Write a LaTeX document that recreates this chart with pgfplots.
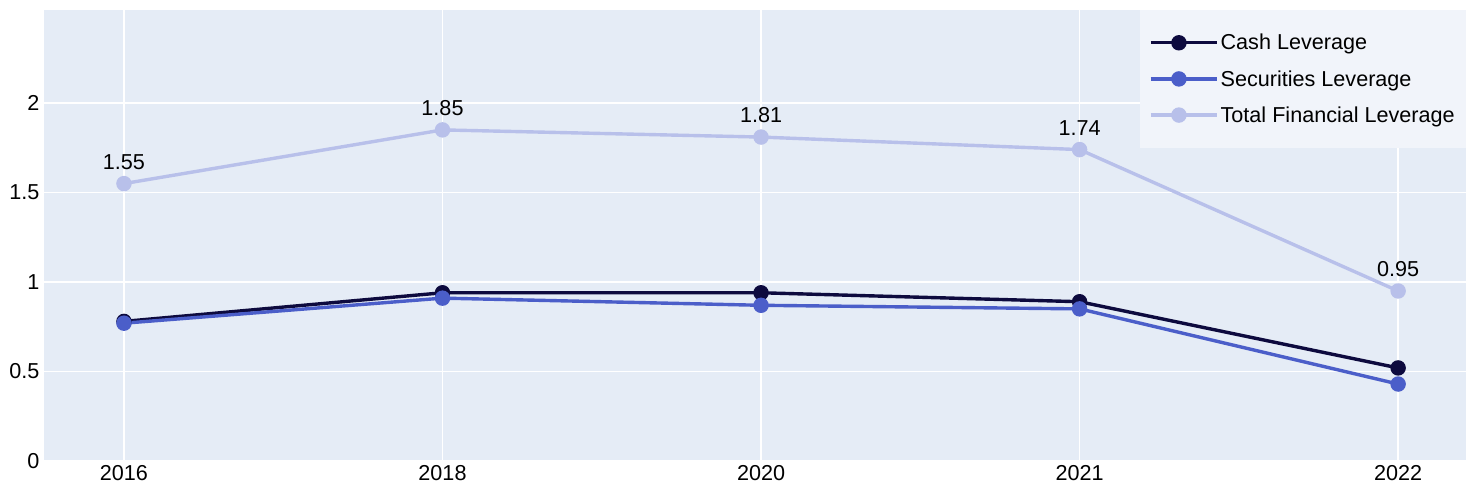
\documentclass[border=0pt]{standalone}
\usepackage{pgfplots}
\pgfplotsset{compat=1.18}
\usepackage{fontspec}
\setmainfont{Liberation Sans}
\definecolor{bgplot}{HTML}{E5ECF6}
\definecolor{legbg}{HTML}{F1F4FA}
\definecolor{cashc}{HTML}{0D0A3E}
\definecolor{secc}{HTML}{4B5EC9}
\definecolor{totc}{HTML}{B8C0EA}
\begin{document}
\begin{tikzpicture}
\begin{axis}[
  scale only axis,
  width=1422pt, height=451pt,
  xmin=-0.251, xmax=4.213,
  ymin=0, ymax=2.52,
  axis background/.style={fill=bgplot},
  axis line style={draw=none},
  tick style={draw=none},
  xtick=data,
  xticklabels={2016,2018,2020,2021,2022},
  ytick={0,0.5,1,1.5,2},
  yticklabels={0,0.5,1,1.5,2},
  grid=major,
  grid style={white, line width=1.6pt},
  tick label style={font=\fontsize{21.6}{26}\selectfont, text=black},
  xticklabel style={yshift=-1pt},
  yticklabel style={xshift=-1pt},
  legend style={
    at={(1,1)}, anchor=north east,
    fill=legbg, draw=none,
    font=\fontsize{21.6}{26}\selectfont,
    row sep=15pt, inner xsep=9pt, inner ysep=22pt,
    cells={anchor=west},
  },
  legend image code/.code={
    \path (0pt,0pt) -- (66pt,0pt);
    \draw[#1, line width=3.4pt] (0pt,0pt) -- (56pt,0pt);
    \fill[#1] (28pt,0pt) circle (6pt);
  },
]
\addplot[cashc, line width=3.4pt, mark=*, mark size=6pt, mark options={fill=cashc, draw=cashc}]
  coordinates {(0,0.78) (1,0.94) (2,0.94) (3,0.89) (4,0.52)};
\addlegendentry{Cash Leverage}
\addplot[secc, line width=3.4pt, mark=*, mark size=6pt, mark options={fill=secc, draw=secc}]
  coordinates {(0,0.77) (1,0.91) (2,0.87) (3,0.85) (4,0.43)};
\addlegendentry{Securities Leverage}
\addplot[totc, line width=3.4pt, mark=*, mark size=6pt, mark options={fill=totc, draw=totc},
  nodes near coords, point meta=explicit symbolic,
  every node near coord/.append style={text=black, font=\fontsize{21.6}{26}\selectfont, yshift=9pt}]
  coordinates {(0,1.55) [1.55] (1,1.85) [1.85] (2,1.81) [1.81] (3,1.74) [1.74] (4,0.95) [0.95]};
\addlegendentry{Total Financial Leverage}
\end{axis}
\useasboundingbox (-44pt,-29pt) rectangle (1424pt,461pt);
\end{tikzpicture}
\end{document}
